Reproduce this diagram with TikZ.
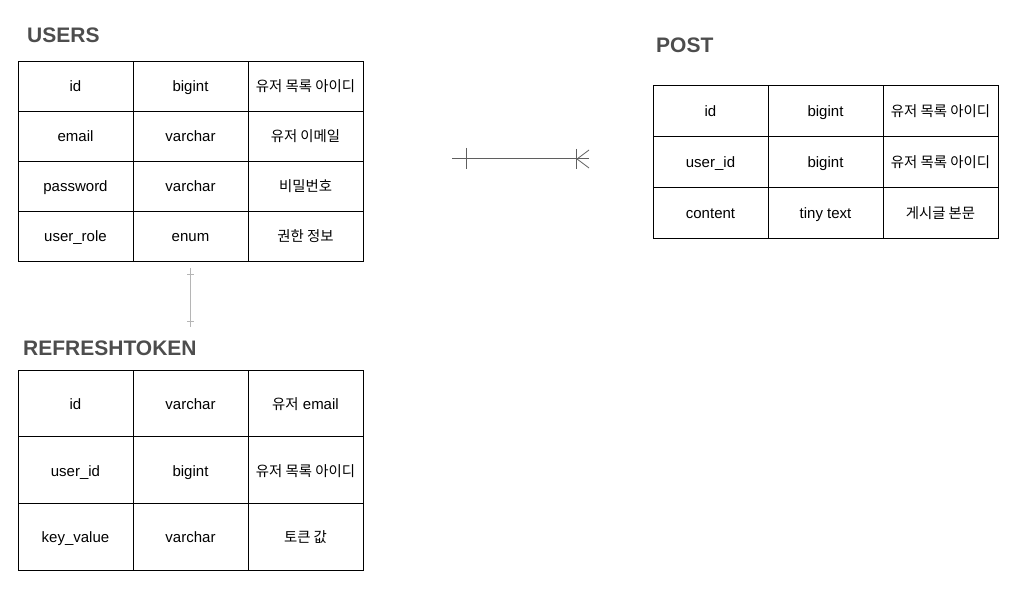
\documentclass[tikz,border=0pt]{standalone}
\usepackage{fontspec}
\setmainfont{Liberation Sans}
\newfontfamily\kr[Scale=0.96]{Noto Sans CJK KR}
\usetikzlibrary{positioning}
\definecolor{titlegray}{HTML}{4D4D4D}
\definecolor{linkgray}{HTML}{5F5F5F}
\definecolor{softgray}{HTML}{B5B5B5}

\begin{document}
\begin{tikzpicture}[x=1pt,y=-1pt,node distance=0pt,
                    cell/.style={draw=black,line width=0.8pt,minimum width=115pt,
                      minimum height=50pt,inner sep=0pt,outer sep=0pt,
                      text height=14pt,text depth=2pt,
                      anchor=north west,font=\fontsize{15}{17}\selectfont},
                    tall/.style={cell,minimum height=66.7pt},
                    title/.style={anchor=west,inner sep=0pt,text=titlegray,
                      font=\fontsize{21}{25}\selectfont\bfseries}]
  \useasboundingbox (0,0) rectangle (1021,601);

  % USERS
  \node[title] (users) at (27,35) {USERS};
  \node[cell] (u1a) at (18,61) {id};
  \node[cell] (u1b) [right=of u1a] {bigint};
  \node[cell] (u1c) [right=of u1b] {\kr 유저 목록 아이디};
  \node[cell] (u2a) [below=of u1a] {email};
  \node[cell] (u2b) [right=of u2a] {varchar};
  \node[cell] (u2c) [right=of u2b] {\kr 유저 이메일};
  \node[cell] (u3a) [below=of u2a] {password};
  \node[cell] (u3b) [right=of u3a] {varchar};
  \node[cell] (u3c) [right=of u3b] {\kr 비밀번호};
  \node[cell] (u4a) [below=of u3a] {user\_role};
  \node[cell] (u4b) [right=of u4a] {enum};
  \node[cell] (u4c) [right=of u4b] {\kr 권한 정보};

  % POST
  \node[title] (post) at (656,45) {POST};
  \node[cell,minimum height=51pt] (p1a) at (653,85) {id};
  \node[cell,minimum height=51pt] (p1b) [right=of p1a] {bigint};
  \node[cell,minimum height=51pt] (p1c) [right=of p1b] {\kr 유저 목록 아이디};
  \node[cell,minimum height=51pt] (p2a) [below=of p1a] {user\_id};
  \node[cell,minimum height=51pt] (p2b) [right=of p2a] {bigint};
  \node[cell,minimum height=51pt] (p2c) [right=of p2b] {\kr 유저 목록 아이디};
  \node[cell,minimum height=51pt] (p3a) [below=of p2a] {content};
  \node[cell,minimum height=51pt] (p3b) [right=of p3a] {tiny text};
  \node[cell,minimum height=51pt] (p3c) [right=of p3b] {\kr 게시글 본문};

  % REFRESHTOKEN
  \node[title] (token) at (23,348) {REFRESHTOKEN};
  \node[tall] (r1a) at (18,370) {id};
  \node[tall] (r1b) [right=of r1a] {varchar};
  \node[tall] (r1c) [right=of r1b] {{\kr 유저} email};
  \node[tall] (r2a) [below=of r1a] {user\_id};
  \node[tall] (r2b) [right=of r2a] {bigint};
  \node[tall] (r2c) [right=of r2b] {\kr 유저 목록 아이디};
  \node[tall] (r3a) [below=of r2a] {key\_value};
  \node[tall] (r3b) [right=of r3a] {varchar};
  \node[tall] (r3c) [right=of r3b] {\kr 토큰 값};

  % users -- post (one to many)
  \coordinate (oneEnd) at (452,159);
  \coordinate (manyEnd) at (589,159);
  \draw[linkgray,line width=1pt] (oneEnd) -- (manyEnd);
  \draw[linkgray,line width=1pt] ([xshift=14pt,yshift=11pt]oneEnd) -- ([xshift=14pt,yshift=-10pt]oneEnd);
  \draw[linkgray,line width=1pt] ([xshift=-13pt,yshift=10pt]manyEnd) -- ([xshift=-13pt,yshift=-10pt]manyEnd);
  \draw[linkgray,line width=0.8pt] ([xshift=-12pt]manyEnd) -- ([yshift=9pt]manyEnd)
    ([xshift=-12pt]manyEnd) -- ([yshift=-9pt]manyEnd);

  % users -- refreshtoken (one to one)
  \draw[softgray,line width=1pt] ([yshift=-7pt]u4b.south) -- ([yshift=43pt]r1b.north);
  \draw[softgray,line width=0.8pt] ([xshift=-3.5pt,yshift=-13pt]u4b.south) -- ([xshift=3.5pt,yshift=-13pt]u4b.south)
    ([xshift=-3.5pt,yshift=49pt]r1b.north) -- ([xshift=3.5pt,yshift=49pt]r1b.north);
\end{tikzpicture}
\end{document}
